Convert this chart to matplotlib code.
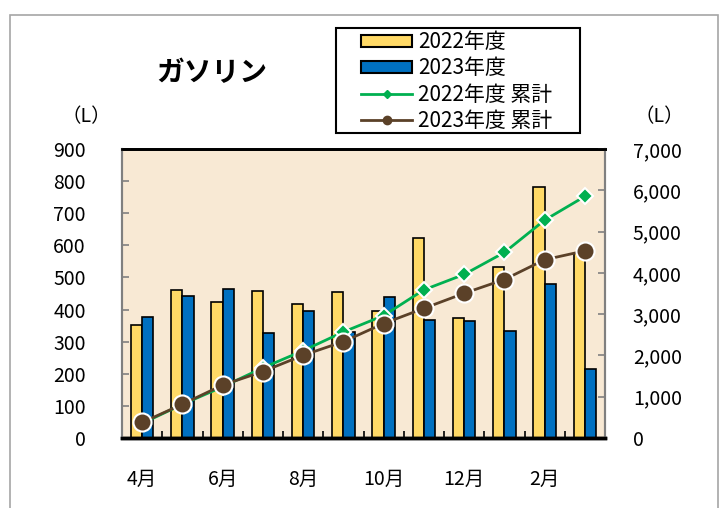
import numpy as np
import matplotlib.pyplot as plt
from matplotlib.lines import Line2D
from matplotlib.patches import Patch, Rectangle
from matplotlib.ticker import StrMethodFormatter

plt.rcParams['font.family'] = ['Noto Sans CJK JP', 'DejaVu Sans']

meses = ['4月', '5月', '6月', '7月', '8月', '9月', '10月', '11月', '12月', '1月', '2月', '3月']
etiquetas_x = ['4月', '', '6月', '', '8月', '', '10月', '', '12月', '', '2月', '']
gasolina_2022 = [353, 462, 425, 459, 416, 454, 396, 623, 374, 532, 783, 575]
gasolina_2023 = [376, 442, 464, 328, 394, 330, 439, 367, 365, 334, 479, 215]
acum_2022 = np.cumsum(gasolina_2022)
acum_2023 = np.cumsum(gasolina_2023)

fig = plt.figure(figsize=(7.21, 5.08), dpi=100)
# marco gris exterior
fig.patches.append(Rectangle((10 / 721, -0.1), 708 / 721, 1.1 - 15 / 508, transform=fig.transFigure,
                             fill=False, edgecolor='#a6a6a6', linewidth=1.2))

ax = fig.add_axes([122 / 721, 1 - 438 / 508, 483 / 721, 289 / 508])
ax.set_facecolor('#f8e9d4')
x = np.arange(len(meses))
ancho = 0.28
ax.bar(x - ancho / 2, gasolina_2022, ancho, color='#ffd966', edgecolor='black', linewidth=1.2, zorder=2)
ax.bar(x + ancho / 2, gasolina_2023, ancho, color='#0070c0', edgecolor='black', linewidth=1.2, zorder=2)
ax.set_ylim(0, 900)
ax.set_xlim(-0.5, 11.5)
ax.set_yticks(range(0, 901, 100))
ax.set_xticks(x)
ax.set_xticklabels(etiquetas_x)
ax.set_xticks(np.arange(0.5, 11, 1), minor=True)
ax.tick_params(axis='x', which='major', length=0, pad=22, labelsize=14)
ax.tick_params(axis='x', which='minor', length=5, width=1.2, direction='in', color='black')
ax.tick_params(axis='y', direction='in', length=5, width=1.2, color='#808080', labelsize=14, pad=26)

ax2 = ax.twinx()
ax2.plot(x, acum_2022, color='#00b050', linewidth=2, marker='D', markersize=8,
         markerfacecolor='#00b050', markeredgecolor='white', markeredgewidth=1.5, zorder=3)
ax2.plot(x, acum_2023, color='#5b4128', linewidth=2, marker='o', markersize=13,
         markerfacecolor='#5b4128', markeredgecolor='white', markeredgewidth=1.5, zorder=4)
ax2.set_ylim(0, 7000)
ax2.set_yticks(range(0, 7001, 1000))
ax2.yaxis.set_major_formatter(StrMethodFormatter('{x:,.0f}'))
ax2.tick_params(axis='y', direction='in', length=5, width=1.2, color='#808080', labelsize=14, pad=20)

for a in (ax, ax2):
    a.spines['left'].set_color('#808080')
    a.spines['right'].set_color('#808080')
    a.spines['left'].set_linewidth(1.5)
    a.spines['right'].set_linewidth(1.5)
    a.spines['top'].set_linewidth(2)
    a.spines['bottom'].set_linewidth(2.5)

fig.text(212 / 721, 1 - 73 / 508, 'ガソリン', fontsize=20, fontweight='bold', ha='center', va='center')
fig.text(86 / 721, 1 - 117 / 508, '（L）', fontsize=14, ha='center', va='center')
fig.text(659 / 721, 1 - 117 / 508, '（L）', fontsize=14, ha='center', va='center')

manijas = [
    Patch(facecolor='#ffd966', edgecolor='black', linewidth=1.5),
    Patch(facecolor='#0070c0', edgecolor='black', linewidth=1.5),
    Line2D([], [], color='#00b050', linewidth=2, marker='D', markersize=4),
    Line2D([], [], color='#5b4128', linewidth=2, marker='o', markersize=6),
]
nombres = ['2022年度', '2023年度', '2022年度 累計', '2023年度 累計']
fig.legend(manijas, nombres, loc='upper left', bbox_to_anchor=(361 / 721, 1 - 31 / 508),
           fontsize=15, frameon=False, handlelength=2.45, handleheight=0.5,
           labelspacing=0.21, borderpad=0, handletextpad=0.3, borderaxespad=0)
# recuadro de la leyenda
fig.patches.append(Rectangle((336 / 721, 1 - 133 / 508), 244 / 721, 105 / 508, transform=fig.transFigure,
                             fill=False, edgecolor='black', linewidth=1.5))

fig.savefig('out.png', dpi=100)
